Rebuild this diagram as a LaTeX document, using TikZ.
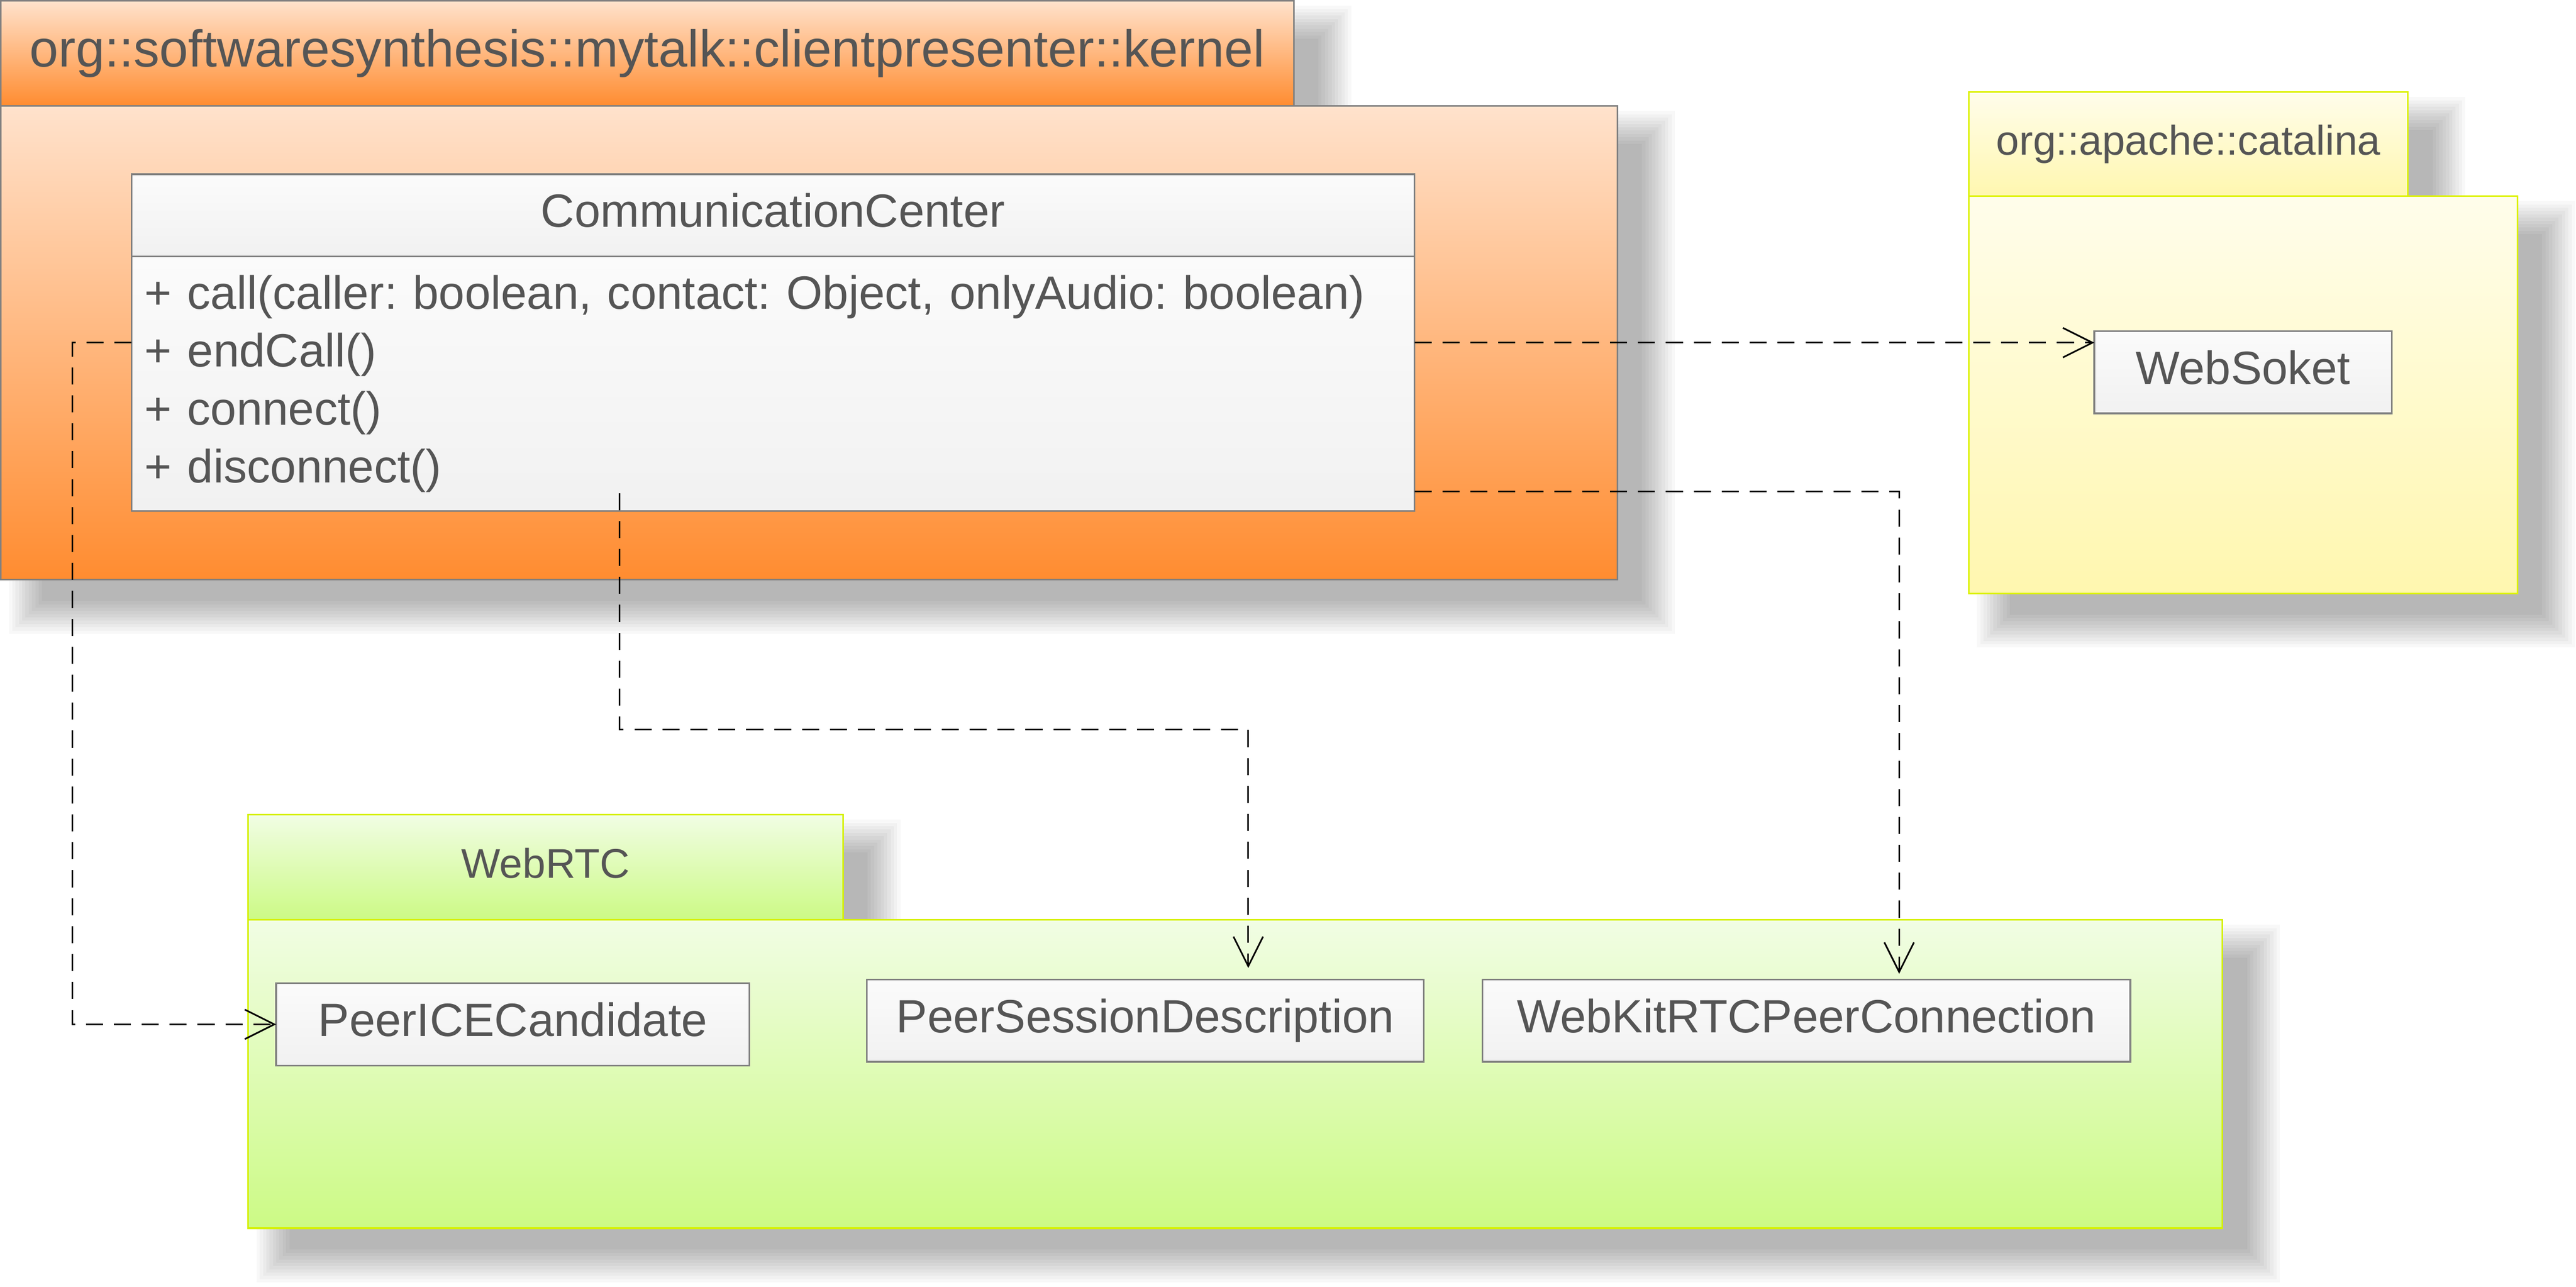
\documentclass[tikz,border=0pt]{standalone}
\usepackage{fontspec}
\setmainfont{Liberation Sans}
\usetikzlibrary{arrows.meta, positioning, calc, backgrounds}
\frenchspacing

\definecolor{textgray}{HTML}{555555}
\definecolor{kerneltop}{HTML}{FFE2CC}
\definecolor{kernelbot}{HTML}{FF8C30}
\definecolor{kernelline}{HTML}{808080}
\definecolor{yellowtop}{HTML}{FFFDEB}
\definecolor{yellowbot}{HTML}{FFF7AF}
\definecolor{yellowline}{HTML}{DDF200}
\definecolor{greentop}{HTML}{F1FDE4}
\definecolor{greenbot}{HTML}{CCFA85}
\definecolor{greenline}{HTML}{D5F000}
\definecolor{classtop}{HTML}{FBFBFB}
\definecolor{classbot}{HTML}{F1F1F1}
\definecolor{classline}{HTML}{808080}

\newcommand{\classfont}{\fontsize{28.4pt}{35.3pt}\selectfont}
\newcommand{\pkgfont}{\fontsize{25.2pt}{30pt}\selectfont}
\newcommand{\kernelfont}{\fontsize{31.6pt}{38pt}\selectfont}

% soft shadow below right of a box
\newcommand{\softshadow}[2]{%
  \foreach \k in {0,...,10}{%
    \fill[black, opacity=0.028]
      ($(#1)+(5+2*\k, 3+2*\k)$) rectangle ($(#2)+(35-2*\k, 33-2*\k)$);
  }}

\begin{document}
\begin{tikzpicture}[x=1pt, y=-1pt,
        pkg/.style={line width=1pt, inner sep=0pt, outer sep=0pt, text=textgray},
        pkgkernel/.style={pkg, draw=kernelline, top color=kerneltop, bottom color=kernelbot},
        pkgyellow/.style={pkg, draw=yellowline, top color=yellowtop, bottom color=yellowbot},
        pkggreen/.style={pkg, draw=greenline, top color=greentop, bottom color=greenbot},
        pkgtitle/.style={font=\pkgfont, text height=18.1pt, text depth=5.3pt},
        classbox/.style={draw=classline, top color=classtop, bottom color=classbot, line width=1pt, inner sep=0pt, outer sep=0pt, text=textgray, font=\classfont},
        classname/.style={classbox, minimum height=50pt, text height=20.45pt, text depth=5.96pt},
        dep/.style={draw=black, line width=1pt, dash pattern=on 10.4pt off 6.6pt, -{Straight Barb[length=18pt, width=18pt]}}]

    \useasboundingbox (0,0) rectangle (1568,783);

    % Package kernel
    \node[pkgkernel, minimum width=984pt, minimum height=288.2pt, anchor=north west] (kernel) at (0.5,64.5) {};
    \node[pkgkernel, font=\kernelfont, text height=22.75pt, text depth=6.6pt, minimum width=787pt, minimum height=64pt, anchor=south west] (kerneltab) at (kernel.north west) {org::softwaresynthesis::mytalk::clientpresenter::kernel};

    % Package catalina
    \node[pkgyellow, minimum width=334pt, minimum height=241.6pt, anchor=north west] (catalina) at (1198.4,119.4) {};
    \node[pkgyellow, pkgtitle, minimum width=267.3pt, minimum height=63.4pt, anchor=south west] (catalinatab) at (catalina.north west) {org::apache::catalina};

    % Package WebRTC
    \node[pkggreen, minimum width=1201.7pt, minimum height=187.6pt, anchor=north west] (webrtc) at (151.1,559.7) {};
    \node[pkggreen, pkgtitle, minimum width=362pt, minimum height=64pt, anchor=south west] (webrtctab) at (webrtc.north west) {WebRTC};

    % Shadows
    \begin{scope}[on background layer]
        \fill[white] (0,0) rectangle (1568,783);
        \softshadow{kerneltab.north west}{kerneltab.south east}
        \softshadow{kernel.north west}{kernel.south east}
        \softshadow{catalinatab.north west}{catalinatab.south east}
        \softshadow{catalina.north west}{catalina.south east}
        \softshadow{webrtctab.north west}{webrtctab.south east}
        \softshadow{webrtc.north west}{webrtc.south east}
    \end{scope}

    % Class CommunicationCenter
    \node[classname, minimum width=781pt, anchor=north west] (ccname) at (80,106) {CommunicationCenter};
    \node[classbox, below=0pt of ccname, text width=765pt, inner xsep=8pt, minimum height=155pt, align=left] (ccops)
        {+ call(caller: boolean, contact: Object, onlyAudio: boolean)\\+ endCall()\\+ connect()\\+ disconnect()};

    % Classes in the packages
    \node[classname, minimum width=181pt] (websoket) at (1365.25,226.5) {WebSoket};
    \node[classname, minimum width=288pt] (peerice) at (312.1,623.25) {PeerICECandidate};
    \node[classname, minimum width=339pt] (psd) at (697.1,621) {PeerSessionDescription};
    \node[classname, minimum width=394.3pt] (webkit) at (1099.55,621) {WebKitRTCPeerConnection};

    % Connector ends
    \coordinate (ccA) at ($(ccops.north west)!0.3387!(ccops.south west)$);
    \coordinate (ccB) at ($(ccops.north east)!0.3387!(ccops.south east)$);
    \coordinate (ccC) at ($(ccops.north east)!0.9226!(ccops.south east)$);
    \coordinate (ccD) at ($(ccops.south west)+(297,-11)$);
    \coordinate (wkin) at ($(webkit.north west)+(253.6,0)$);
    \coordinate (psdin) at ($(psd.north west)+(232.2,0)$);

    % Dependencies
    \draw[dep] (ccA) -- ++(-36,0) |- (peerice.west);
    \draw[dep] (ccB) -- (ccB -| websoket.west);
    \draw[dep, shorten >=3.5pt] (ccC) -| (wkin);
    \draw[dep, shorten >=7pt] (ccD) -- ++(0,143.8) -| (psdin);

\end{tikzpicture}
\end{document}
